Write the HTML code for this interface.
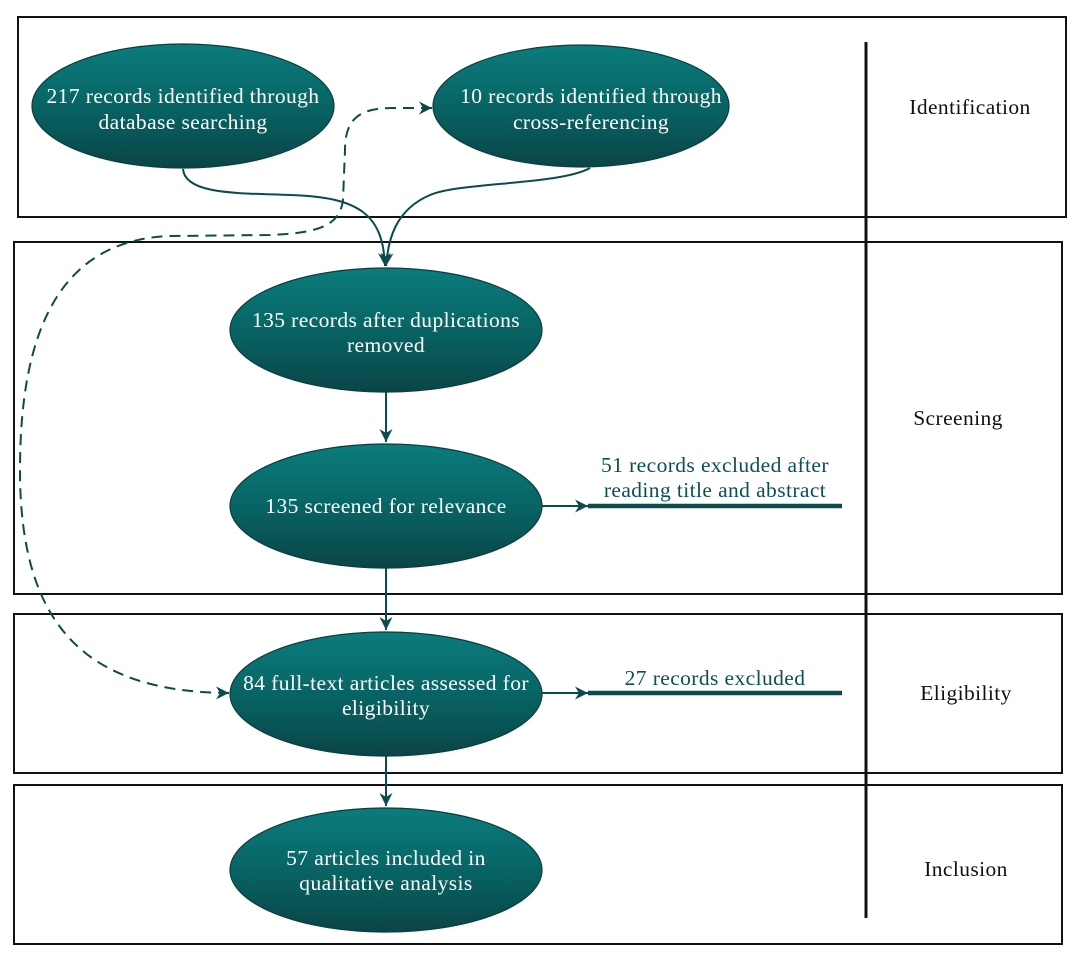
<!DOCTYPE html>
<html><head><meta charset="utf-8"><style>
html,body{margin:0;padding:0;background:#fff}
svg{display:block}
text{font-family:"Liberation Serif",serif;font-size:21.5px;letter-spacing:0.4px}
.w{fill:#fff;text-anchor:middle}
.k{fill:#111;text-anchor:middle}
.t{fill:#0d4f50;text-anchor:middle}
</style></head><body>
<svg width="1080" height="964" viewBox="0 0 1080 964" xmlns="http://www.w3.org/2000/svg">
<defs>
<linearGradient id="g" x1="0" y1="0" x2="0" y2="1">
<stop offset="0" stop-color="#0b7c7c"/><stop offset="0.5" stop-color="#086464"/><stop offset="1" stop-color="#0a4547"/>
</linearGradient>
<marker id="a" markerWidth="14" markerHeight="14" refX="13" refY="6.5" orient="auto-start-reverse" markerUnits="userSpaceOnUse">
<path d="M0,0 L13,6.5 L0,13 L4,6.5 Z" fill="#0d4a4c"/>
</marker>
</defs>
<g fill="none" stroke="#111" stroke-width="2">
<rect x="18" y="17" width="1048" height="200"/>
<rect x="14" y="242" width="1048" height="352"/>
<rect x="14" y="614" width="1048" height="159"/>
<rect x="14" y="785" width="1048" height="159"/>
</g>
<line x1="866" y1="42" x2="866" y2="918" stroke="#111" stroke-width="3"/>
<g stroke="#0b3e40" stroke-width="1.2" fill="url(#g)">
<ellipse cx="183" cy="106" rx="151" ry="62"/>
<ellipse cx="581" cy="106" rx="148" ry="61"/>
<ellipse cx="386" cy="330" rx="156" ry="62"/>
<ellipse cx="386" cy="506" rx="156" ry="62"/>
<ellipse cx="386" cy="694" rx="156" ry="62"/>
<ellipse cx="386" cy="870" rx="156" ry="62"/>
</g>
<g fill="none" stroke="#0d4a4c" stroke-width="2">
<path d="M183,169 C185,195 240,193 290,195 C360,197 383,215 385,266" marker-end="url(#a)"/>
<path d="M590,168 C560,185 460,182 430,195 C395,210 388,240 386,266" marker-end="url(#a)"/>
<path d="M386,392 L386,442" marker-end="url(#a)"/>
<path d="M386,568 L386,630" marker-end="url(#a)"/>
<path d="M386,756 L386,806" marker-end="url(#a)"/>
<path d="M542,506 L588,506" marker-end="url(#a)"/>
<path d="M542,693 L588,693" marker-end="url(#a)"/>
<path d="M432,108 L392,108 C358,108 345,120 345,150 L343,200 C340,225 320,233 270,235 L170,236 C60,240 20,330 20,470 C20,620 80,692 229,693" stroke-dasharray="11,7" marker-start="url(#a)" marker-end="url(#a)"/>
</g>
<line x1="588" y1="506" x2="842" y2="506" stroke="#0d4a4c" stroke-width="4.5"/>
<line x1="588" y1="693" x2="842" y2="693" stroke="#0d4a4c" stroke-width="4.5"/>
<text class="w" x="183" y="103">217 records identified through</text>
<text class="w" x="183" y="129">database searching</text>
<text class="w" x="591" y="103">10 records identified through</text>
<text class="w" x="591" y="129">cross-referencing</text>
<text class="w" x="386" y="327">135 records after duplications</text>
<text class="w" x="386" y="352">removed</text>
<text class="w" x="386" y="513">135 screened for relevance</text>
<text class="w" x="386" y="690">84 full-text articles assessed for</text>
<text class="w" x="386" y="715">eligibility</text>
<text class="w" x="386" y="865">57 articles included in</text>
<text class="w" x="386" y="890">qualitative analysis</text>
<text class="t" x="715" y="472">51 records excluded after</text>
<text class="t" x="715" y="497">reading title and abstract</text>
<text class="t" x="715" y="685">27 records excluded</text>
<text class="k" x="970" y="114">Identification</text>
<text class="k" x="958" y="425">Screening</text>
<text class="k" x="966" y="700">Eligibility</text>
<text class="k" x="966" y="876">Inclusion</text>
</svg>
</body></html>
